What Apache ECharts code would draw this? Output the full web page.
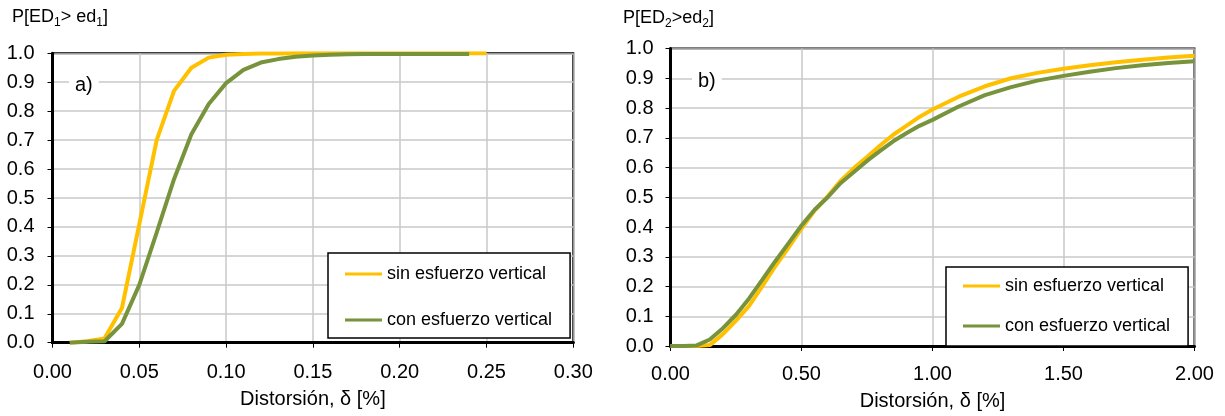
<!DOCTYPE html>
<html><head><meta charset="utf-8">
<script src="https://cdn.jsdelivr.net/npm/echarts@6/dist/echarts.min.js"></script>
<style>html,body{margin:0;padding:0;background:#fff}#c{width:1225px;height:416px}</style>
</head><body><div id="c"></div>
<script>
// ---- data ----
const seriesNames = ['sin esfuerzo vertical', 'con esfuerzo vertical'];
const xTicksA = ['0.00','0.05','0.10','0.15','0.20','0.25','0.30'];
const xTicksB = ['0.00','0.50','1.00','1.50','2.00'];
const yTicks = ['0.0','0.1','0.2','0.3','0.4','0.5','0.6','0.7','0.8','0.9','1.0'];

// chart a)
const xA_sin = [0.01,0.02,0.03,0.04,0.05,0.06,0.07,0.08,0.09,0.10,0.11,0.12,0.13,0.14,0.15,0.16,0.17,0.18,0.19,0.20,0.21,0.22,0.23,0.24,0.25];
const yA_sin = [0,0.005,0.015,0.12,0.41,0.70,0.87,0.95,0.985,0.995,0.998,0.999,0.999,1,1,1,1,1,1,1,1,1,1,1,1];
const xA_con = [0.01,0.02,0.03,0.04,0.05,0.06,0.07,0.08,0.09,0.10,0.11,0.12,0.13,0.14,0.15,0.16,0.17,0.18,0.19,0.20,0.21,0.22,0.23,0.24];
const yA_con = [0,0.003,0.005,0.065,0.20,0.38,0.565,0.72,0.825,0.897,0.943,0.968,0.98,0.988,0.992,0.995,0.997,0.998,0.998,0.998,0.998,0.998,0.998,0.998];

// chart b)
const xB = [0,0.05,0.10,0.15,0.20,0.25,0.30,0.35,0.40,0.45,0.50,0.55,0.60,0.65,0.70,0.75,0.80,0.85,0.90,0.95,1.00,1.10,1.20,1.30,1.40,1.50,1.60,1.70,1.80,1.90,2.00];
const yB_sin = [0,0,0,0.003,0.04,0.085,0.135,0.20,0.268,0.33,0.395,0.455,0.503,0.556,0.598,0.635,0.674,0.71,0.74,0.77,0.795,0.838,0.873,0.90,0.918,0.932,0.944,0.954,0.962,0.970,0.976];
const yB_con = [0,0,0.002,0.022,0.06,0.105,0.16,0.222,0.285,0.345,0.405,0.458,0.50,0.548,0.585,0.622,0.656,0.688,0.715,0.74,0.76,0.805,0.843,0.870,0.892,0.908,0.922,0.934,0.944,0.951,0.957];

// ---- chart ----
const FONT = 'Liberation Sans, Arial, sans-serif';
const C_SIN = '#FFC000', C_CON = '#77933C';
const pairs = (xs, ys) => xs.map((x, i) => [x, ys[i]]);

function xAxisCfg(gi, max, interval, ticks, margin, gap) {
  return {
    type: 'value', gridIndex: gi, min: 0, max: max, interval: interval,
    name: 'Distorsión, δ [%]', nameLocation: 'middle', nameGap: gap,
    nameTextStyle: {fontFamily: FONT, fontSize: 20, color: '#000'},
    axisLine: {show: true, onZero: false, lineStyle: {color: '#000', width: 3}},
    axisTick: {show: true, length: 5, inside: false, lineStyle: {color: '#000', width: 1}},
    axisLabel: {fontFamily: FONT, fontSize: 20, color: '#000', margin: margin,
      formatter: v => ticks[Math.round(v / interval)] ?? ''},
    splitLine: {show: true, lineStyle: {color: '#c8c8c8', width: 1.5}}
  };
}
function yAxisCfg(gi, margin) {
  return {
    type: 'value', gridIndex: gi, min: 0, max: 1, interval: 0.1,
    axisLine: {show: true, lineStyle: {color: '#000', width: 3}},
    axisTick: {show: true, length: 5, lineStyle: {color: '#000', width: 1}},
    axisLabel: {fontFamily: FONT, fontSize: 20, color: '#000', margin: margin,
      formatter: v => yTicks[Math.round(v * 10)] ?? ''},
    splitLine: {show: true, lineStyle: {color: '#c8c8c8', width: 1.5}}
  };
}
function lineSeries(name, color, xi, data) {
  return {
    type: 'line', name: name, xAxisIndex: xi, yAxisIndex: xi, data: data,
    color: color, showSymbol: false, symbol: 'none', smooth: false,
    lineStyle: {color: color, width: 4}, animation: false
  };
}
function legendCfg(left, top, gap, padding) {
  return {
    data: seriesNames, orient: 'vertical', left: left, top: top,
    icon: 'rect', itemWidth: 37, itemHeight: 3, itemGap: gap,
    padding: padding, borderColor: '#000', borderWidth: 1.5,
    backgroundColor: '#fff', selectedMode: false,
    textStyle: {fontFamily: FONT, fontSize: 18, color: '#000'}
  };
}
const titleRich = {
  m: {fontFamily: FONT, fontSize: 18, fill: '#000', verticalAlign: 'bottom'},
  s: {fontFamily: FONT, fontSize: 12, fill: '#000', verticalAlign: 'bottom', padding: [0, 0, -3, 0]}
};

const chart = echarts.init(document.getElementById('c'), null, {renderer: 'canvas'});
chart.setOption({
  animation: false,
  backgroundColor: '#fff',
  grid: [
    {left: 52.5, top: 53.3, width: 520.8, height: 289.4, show: true, borderColor: '#000', borderWidth: 2, containLabel: false},
    {left: 670.5, top: 48.5, width: 524, height: 303.2, show: true, borderColor: '#000', borderWidth: 2, containLabel: false}
  ],
  xAxis: [xAxisCfg(0, 0.3, 0.05, xTicksA, 20, 47), xAxisCfg(1, 2, 0.5, xTicksB, 18, 45)],
  yAxis: [yAxisCfg(0, 18), yAxisCfg(1, 17)],
  legend: [legendCfg(328, 253, 28, [12, 18, 9, 17]), legendCfg(946, 267, 22, [10, 18, 11, 17])],
  series: [
    lineSeries(seriesNames[0], C_SIN, 0, pairs(xA_sin, yA_sin)),
    lineSeries(seriesNames[1], C_CON, 0, pairs(xA_con, yA_con)),
    lineSeries(seriesNames[0], C_SIN, 1, pairs(xB, yB_sin)),
    lineSeries(seriesNames[1], C_CON, 1, pairs(xB, yB_con))
  ],
  graphic: [
    {type: 'text', left: 12, top: 8, style: {text: '{m|P[ED}{s|1}{m|> ed}{s|1}{m|]}', rich: titleRich}},
    {type: 'text', left: 623, top: 9, style: {text: '{m|P[ED}{s|2}{m|>ed}{s|2}{m|]}', rich: titleRich}},
    {type: 'text', left: 69, top: 74, z: 10, style: {text: 'a)', fontFamily: FONT, fontSize: 20, fill: '#000',
      backgroundColor: '#fff', padding: [1, 6, 1, 6]}},
    {type: 'text', left: 692, top: 70, z: 10, style: {text: 'b)', fontFamily: FONT, fontSize: 20, fill: '#000',
      backgroundColor: '#fff', padding: [1, 6, 1, 6]}}
  ]
});
</script>
</body></html>
